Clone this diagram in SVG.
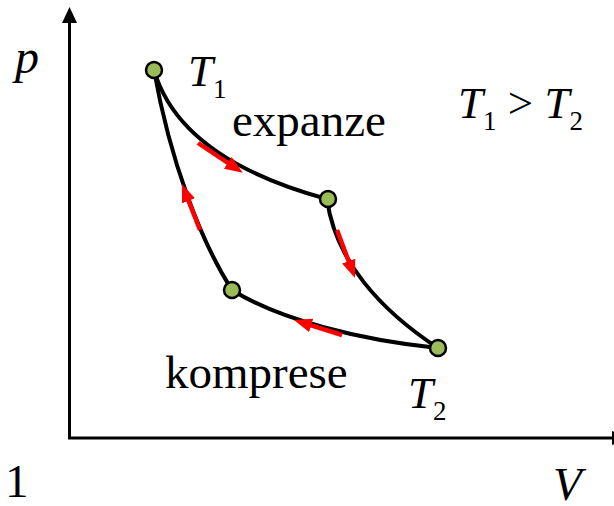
<svg xmlns="http://www.w3.org/2000/svg" width="614" height="506" viewBox="0 0 614 506">
  <style>
    .axis { stroke: #000; stroke-width: 3; fill: none; }
    .curve { stroke: #000; stroke-width: 4; fill: none; stroke-linecap: round; }
    .dir { stroke: #ff0000; stroke-width: 4.5; fill: none; marker-end: url(#redArrow); }
    .node { fill: #9bbb59; stroke: #000; stroke-width: 2.5; }
    .t { font-family: "Liberation Serif", "Times New Roman", serif; fill: #000; }
    .it { font-style: italic; }
  </style>
  <defs>
    <marker id="redArrow" markerUnits="userSpaceOnUse" markerWidth="18" markerHeight="14" refX="5" refY="7" orient="auto" viewBox="0 0 18 14">
      <path d="M0,0 L18,7 L0,14 z" fill="#ff0000"/>
    </marker>
  </defs>
  <rect width="614" height="506" fill="#fff"/>

  <g id="axes">
    <line class="axis" x1="69.5" y1="22" x2="69.5" y2="438"/>
    <path d="M69.5,7 L77,23 L62,23 z" fill="#000"/>
    <line class="axis" x1="68" y1="438" x2="614" y2="438"/>
    <path d="M612,431 L632,438 L612,445 z" fill="#000"/>
  </g>

  <g id="connectors">
    <path class="curve" d="M154,70 C172,132 235,174 327,199"/>
    <path class="curve" d="M327,199 C335,260 380,310 438,348"/>
    <path class="curve" d="M438,348 C360,340 280,320 232,290"/>
    <path class="curve" d="M232,290 C200,240 170,160 154,70"/>
    <line class="dir" x1="198" y1="143" x2="232" y2="165.6"/>
    <line class="dir" x1="337" y1="230" x2="350.4" y2="265.8"/>
    <line class="dir" x1="342" y1="335" x2="306.4" y2="323.9"/>
    <line class="dir" x1="200" y1="230" x2="186.7" y2="196.1"/>
  </g>

  <g id="node-1"><circle class="node" cx="154" cy="70" r="8"/></g>
  <g id="node-2"><circle class="node" cx="328" cy="199" r="8"/></g>
  <g id="node-3"><circle class="node" cx="438" cy="348" r="8"/></g>
  <g id="node-4"><circle class="node" cx="232" cy="290" r="8"/></g>

  <g id="labels">
    <text class="t it" x="15" y="73" font-size="48">p</text>
    <text class="t" x="188" y="86" font-size="45"><tspan class="it">T</tspan><tspan font-size="27" dy="12">1</tspan></text>
    <text class="t" x="232" y="136" font-size="47">expanze</text>
    <text class="t" x="165" y="388" font-size="47">komprese</text>
    <text class="t" x="408" y="408" font-size="45"><tspan class="it">T</tspan><tspan font-size="27" dy="12">2</tspan></text>
    <text class="t" x="458" y="118" font-size="45"><tspan class="it">T</tspan><tspan font-size="27" dy="12">1</tspan><tspan dy="-12"> &gt; </tspan><tspan class="it">T</tspan><tspan font-size="27" dy="12">2</tspan></text>
    <text class="t" x="5" y="497" font-size="47">1</text>
    <text class="t it" x="553" y="500" font-size="47">V</text>
  </g>
</svg>
